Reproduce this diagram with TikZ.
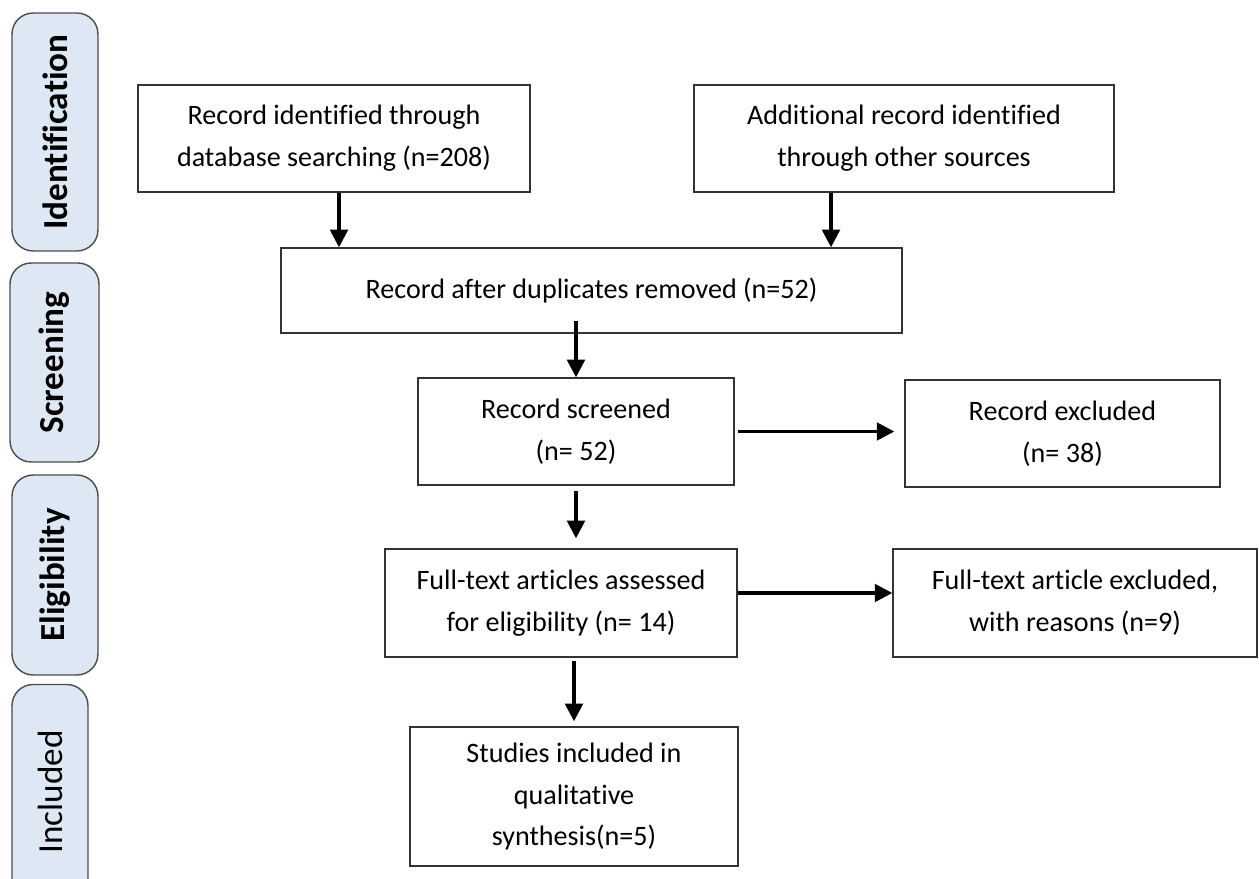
\documentclass[tikz,border=0pt]{standalone}
\usepackage{fontspec}
\setmainfont{Carlito}[Ligatures=NoCommon]
\usetikzlibrary{arrows.meta}
\definecolor{barblue}{HTML}{DEE8F5}
\tikzstyle{box} = [draw=black!80, line width=0.8pt, align=center, inner sep=2pt, font=\fontsize{16}{23.8}\selectfont]
\tikzstyle{bar} = [draw=black!70, line width=0.8pt, fill=barblue, rounded corners=12pt, rotate=90, font=\fontsize{20}{24}\selectfont]
\tikzstyle{arrow} = [line width=1.9pt, -{Triangle[width=10pt,length=10pt]}]

\begin{document}
\begin{tikzpicture}[x=0.02cm,y=-0.02cm]
        \useasboundingbox (0,0) rectangle (1259,879);
        % Stage bars on the left
        \node[bar, minimum width=4.76cm, minimum height=1.72cm] (idbar) at (55,132) {\bfseries Identification};
        \node[bar, minimum width=3.98cm, minimum height=1.78cm] (scrbar) at (54.5,362.5) {\bfseries Screening};
        \node[bar, minimum width=4cm, minimum height=1.72cm] (eligbar) at (55,575) {\bfseries Eligibility};
        \node[bar, minimum width=4.3cm, minimum height=1.52cm] (inclbar) at (50,792) {Included};

        % Flow boxes
        \node[box, minimum width=7.84cm, minimum height=2.14cm] (ident) at (334,138.5) {Record identified through\\database searching (n=208)};
        \node[box, minimum width=8.4cm, minimum height=2.14cm] (addl) at (904,138.5) {Additional record identified\\through other sources};
        \node[box, minimum width=12.42cm, minimum height=1.7cm] (dedup) at (591.5,290.5) {Record after duplicates removed (n=52)};
        \node[box, minimum width=6.32cm, minimum height=2.14cm] (screened) at (576,431.5) {Record screened\\(n= 52)};
        \node[box, minimum width=6.3cm, minimum height=2.14cm] (excluded) at (1062.5,433.5) {Record excluded\\(n= 38)};
        \node[box, minimum width=7.04cm, minimum height=2.16cm] (fulltext) at (561,603) {Full-text articles assessed\\for eligibility (n= 14)};
        \node[box, minimum width=7.28cm, minimum height=2.16cm] (ftexcl) at (1075,603) {Full-text article excluded,\\with reasons (n=9)};
        \node[box, minimum width=6.56cm, minimum height=2.78cm] (included) at (574,796.5) {Studies included in\\qualitative\\synthesis(n=5)};

        % Arrows
        \draw[arrow] ([xshift=0.1cm]ident.south) -- ([xshift=0.1cm]ident.south |- dedup.north);
        \draw[arrow] ([xshift=-1.46cm]addl.south) -- ([xshift=-1.46cm]addl.south |- dedup.north);
        \draw[arrow] ([yshift=0.26cm]screened.north |- dedup.south) -- (screened.north);
        \draw[arrow] ([yshift=-0.1cm]screened.south) -- ([yshift=0.2cm]screened.south |- fulltext.north);
        \draw[arrow] ([yshift=-0.06cm]included.north |- fulltext.south) -- ([yshift=0.1cm]included.north);
        \draw[arrow, shorten >=0.2cm] ([xshift=0.06cm]screened.east) -- (screened.east -| excluded.west);
        \draw[arrow] ([yshift=0.2cm]fulltext.east) -- ([yshift=0.2cm]fulltext.east -| ftexcl.west);
    \end{tikzpicture}
\end{document}
